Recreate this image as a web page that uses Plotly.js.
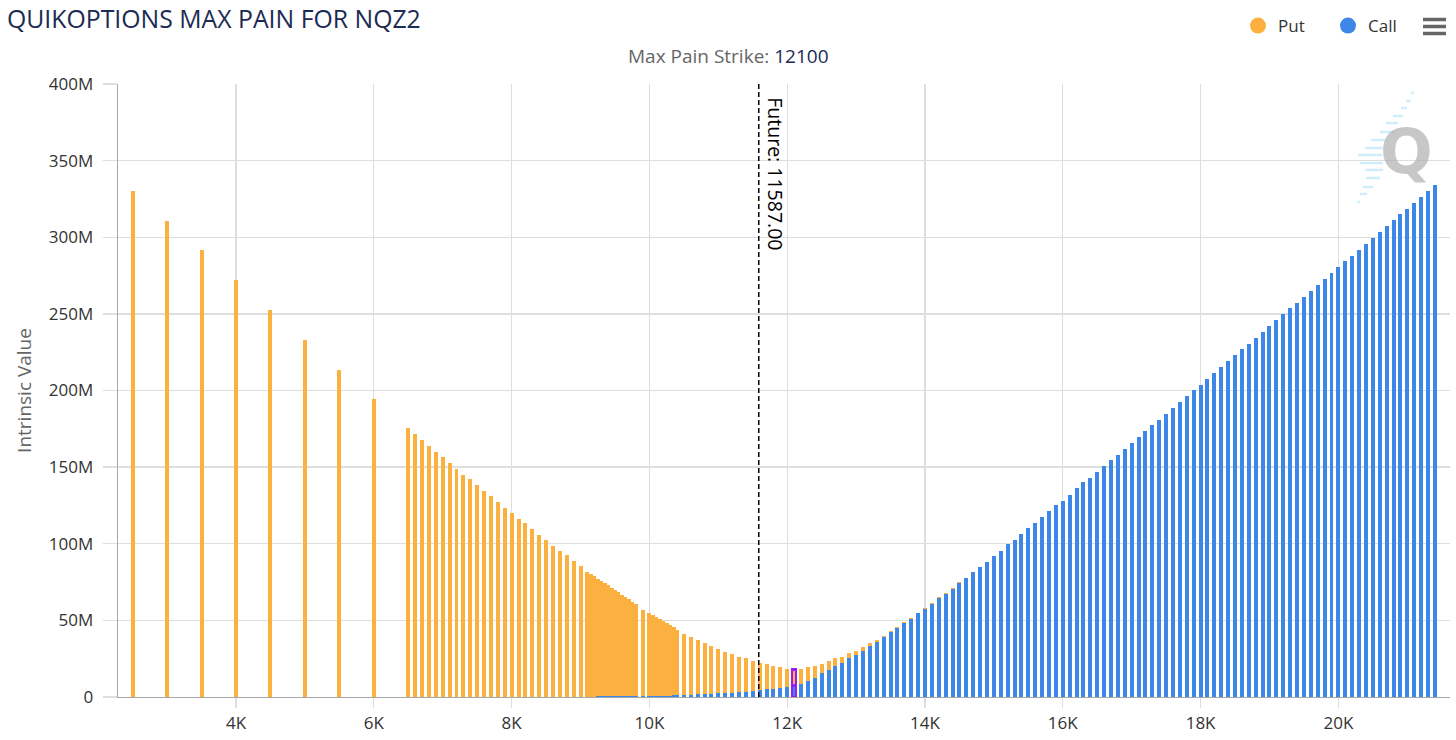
<!DOCTYPE html>
<html>
<head>
<meta charset="utf-8">
<script src="https://cdn.plot.ly/plotly-3.0.1.min.js"></script>
<style>
html,body{margin:0;padding:0;background:#fff;}
#chart{width:1456px;height:740px;}
</style>
</head>
<body>
<div id="chart"></div>
<script>
// ---- DATA (values in millions) ----
const strikes = [
  2500,3000,3500,4000,4500,5000,5500,6000,
  6500,6600,6700,6800,6900,7000,7100,7200,7300,7400,7500,7600,7700,7800,7900,8000,8100,8200,8300,8400,8500,8600,8700,8800,8900,9000,
  9100,9150,9200,9250,9300,9350,9400,9450,9500,9550,9600,9650,9700,9750,9800,
  9900,
  10000,10050,10100,10150,10200,10250,10300,10350,10400,
  10500,10600,10700,10800,10900,11000,11100,11200,11300,11400,
  11500,11600,11700,11800,11900,12000,12100,12200,12300,12400,
  12500,12600,12700,12800,12900,13000,13100,13200,13300,13400,
  13500,13600,13700,13800,13900,14000,14100,14200,14300,14400,
  14500,14600,14700,14800,14900,15000,
  15100,15200,15300,15400,15500,15600,15700,15800,15900,16000,
  16100,16200,16300,16400,16500,16600,16700,16800,16900,17000,
  17100,17200,17300,17400,17500,17600,17700,17800,17900,18000,
  18100,18200,18300,18400,18500,18600,18700,18800,18900,19000,
  19100,19200,19300,19400,19500,19600,19700,19800,19900,20000,
  20100,20200,20300,20400,20500,20600,20700,20800,20900,21000,
  21100,21200,21300,21400
];
const putValues = [
  330.3,310.7,291.8,272.2,252.6,233.0,213.4,194.5,
  175.6,171.9,167.8,163.8,159.9,156.9,153.0,149.0,145.1,142.1,138.2,134.3,131.2,127.3,123.4,120.3,116.4,113.4,109.5,105.5,102.5,98.6,95.5,92.5,88.6,85.7,
  81.8,80.3,78.8,76.5,75.0,73.5,72.0,70.5,69.0,67.5,66.0,64.5,63.0,61.4,59.9,
  56.2,
  53.7,52.4,51.2,49.9,48.7,47.3,46.1,44.6,42.8,
  39.8,37.5,35.5,33.5,31.2,28.8,26.8,25.4,23.2,21.8,
  19.7,18.0,16.5,14.7,13.3,11.7,10.4,10.2,8.9,8.0,
  6.0,5.9,5.1,3.9,3.0,2.7,2.4,1.9,1.5,1.0,
  0.9,0.8,0.7,0.6,0.5,0.5,0.4,0.4,0.4,0.4,
  0.3,0.2,0.1,0,0,0,
  0,0,0,0,0,0,0,0,0,0,
  0,0,0,0,0,0,0,0,0,0,
  0,0,0,0,0,0,0,0,0,0,
  0,0,0,0,0,0,0,0,0,0,
  0,0,0,0,0,0,0,0,0,0,
  0,0,0,0,0,0,0,0,0,0,
  0,0,0,0
];
const callValues = [
  0,0,0,0,0,0,0,0,
  0,0,0,0,0,0,0,0,0,0,0,0,0,0,0,0,0,0,0,0,0,0,0,0,0,0,
  0,0,0,0.8,0.8,0.8,0.8,0.8,0.8,0.8,0.8,0.8,0.8,0.8,0.8,
  0.8,
  0.8,0.8,0.8,0.8,0.8,0.9,0.9,1.0,1.2,
  1.3,1.5,1.7,1.9,2.1,2.3,2.5,2.8,3.1,3.4,
  3.8,4.3,4.9,5.5,6.1,6.7,7.5,8.3,10.7,12.4,
  15.5,17.6,20.2,22.4,25.5,27.3,30.0,33.1,35.7,39.0,
  42.4,45.1,48.1,51.2,54.5,57.6,60.7,64.7,67.5,70.8,
  74.6,77.5,81.4,84.6,88.3,92.2,
  95.3,99.7,102.3,106.4,110.1,113.4,117.3,121.4,125.1,128.1,
  132.0,136.2,140.1,143.1,146.9,151.0,154.9,158.0,161.9,165.8,
  169.7,173.6,177.7,180.8,184.7,188.6,192.5,196.5,200.4,203.6,
  207.6,211.7,215.4,219.3,223.4,227.1,230.4,234.1,238.2,242.4,
  246.1,250.0,254.1,257.2,261.1,265.0,268.9,272.8,276.7,280.9,
  284.8,287.8,291.8,295.7,299.6,303.5,307.4,311.3,315.5,318.3,
  322.2,326.2,330.3,334.2
];
const xTickVals = [4000,6000,8000,10000,12000,14000,16000,18000,20000];
const xTickText = ['4K','6K','8K','10K','12K','14K','16K','18K','20K'];
const maxPainStrike = 12100;
const futurePrice = 11587.00;
const seriesNames = ['Put','Call'];

// ---- STYLE ----
const putColor = '#fbb040';
const callColor = '#3d87e8';
const highlight = '#9b1cf2';
const FONT = 'Open Sans, Noto Sans, sans-serif';

// plot-area pixel frame (for decorations)
const L = 118, R = 1450, T = 84, B = 697;
const px2x = p => (p - L) / (R - L);
const py2y = p => (B - p) / (B - T);

const lineColors = strikes.map(s => s === maxPainStrike ? highlight : 'rgba(0,0,0,0)');
const lineWidths = strikes.map(s => s === maxPainStrike ? 2.5 : 0);

const callTrace = {
  type: 'bar', name: seriesNames[1], x: strikes, y: callValues.map(v => v * 1e6),
  width: 58, marker: {color: callColor, line: {color: lineColors, width: lineWidths}},
  showlegend: false, hoverinfo: 'skip'
};
const putTrace = {
  type: 'bar', name: seriesNames[0], x: strikes, y: putValues.map(v => v * 1e6),
  width: 58, marker: {color: putColor, line: {color: lineColors, width: lineWidths}},
  showlegend: false, hoverinfo: 'skip'
};
const legPut = {type: 'scatter', mode: 'markers', x: [null], y: [null], name: seriesNames[0],
  marker: {color: putColor, size: 16, symbol: 'circle'}, hoverinfo: 'skip'};
const legCall = {type: 'scatter', mode: 'markers', x: [null], y: [null], name: seriesNames[1],
  marker: {color: callColor, size: 16, symbol: 'circle'}, hoverinfo: 'skip'};

// watermark streaks (decoration) [y, x0, x1] in px
const streaks = [
  [93,1411,1414],[101,1406,1411],[108,1401,1407],[116,1393,1403],[123,1386,1398],
  [132,1380,1395],[140,1371,1385],[148,1365,1383],[155,1358,1382],[163,1360,1383],
  [170,1365,1383],[178,1366,1380],[187,1363,1373],[194,1360,1367],[202,1357,1360]
];

const shapes = [
  {type: 'line', xref: 'x', yref: 'paper', x0: futurePrice, x1: futurePrice, y0: 0, y1: 1,
   line: {color: '#000', width: 1.5, dash: '5px,3px'}}
];
streaks.forEach(s => shapes.push({type: 'line', xref: 'paper', yref: 'paper',
  x0: px2x(s[1]), x1: px2x(s[2]), y0: py2y(s[0]), y1: py2y(s[0]),
  line: {color: '#cdeffb', width: 2.5}, layer: 'below'}));
[19.5, 26.5, 33.5].forEach(yy => shapes.push({type: 'line', xref: 'paper', yref: 'paper',
  x0: px2x(1423), x1: px2x(1446), y0: py2y(yy), y1: py2y(yy),
  line: {color: '#666', width: 3.5}}));

const annotations = [
  {xref: 'paper', yref: 'paper', x: px2x(728), y: py2y(56), xanchor: 'center', yanchor: 'middle',
   text: 'Max Pain Strike: <span style="color:#1c2b53">' + maxPainStrike + '</span>',
   showarrow: false, font: {family: FONT, size: 19, color: '#666'}},
  {xref: 'x', yref: 'paper', x: futurePrice, y: py2y(95), xanchor: 'left', yanchor: 'top',
   xshift: 1, textangle: 90, text: 'Future: ' + futurePrice.toFixed(2),
   showarrow: false, font: {family: FONT, size: 19.5, color: '#000'}},
  {xref: 'paper', yref: 'paper', x: px2x(1406), y: py2y(152), xanchor: 'center', yanchor: 'middle',
   text: '<b>Q</b>', showarrow: false, font: {family: 'DejaVu Sans, sans-serif', size: 62, color: 'rgba(175,175,175,0.7)'}}
];

const layout = {
  width: 1456, height: 740,
  margin: {l: L, r: 1456 - R, t: T, b: 740 - B, pad: 0},
  paper_bgcolor: '#fff', plot_bgcolor: '#fff',
  font: {family: FONT, size: 17, color: '#333'},
  barmode: 'stack',
  title: {text: 'QUIKOPTIONS MAX PAIN FOR NQZ2', xref: 'container', yref: 'container',
    x: 7 / 1456, xanchor: 'left', y: 1 - 19 / 740, yanchor: 'middle',
    font: {family: FONT, size: 24.8, color: '#1c2b53'}},
  showlegend: true,
  legend: {orientation: 'h', traceorder: 'normal', x: px2x(1238), xanchor: 'left', y: py2y(26), yanchor: 'middle',
    font: {family: FONT, size: 17, color: '#333'}, bgcolor: 'rgba(0,0,0,0)', entrywidth: 45},
  xaxis: {range: [2287, 21620], tickvals: xTickVals, ticktext: xTickText,
    showgrid: true, gridcolor: '#dedede', gridwidth: 1.3, zeroline: false,
    showline: true, linecolor: '#a8a8a8', linewidth: 1.3,
    ticks: 'outside', ticklen: 10, tickcolor: '#dedede', tickwidth: 1.3,
    tickfont: {family: FONT, size: 17, color: '#333'}, fixedrange: true},
  yaxis: {range: [0, 400e6], dtick: 50e6, tickformat: '~s',
    showgrid: true, gridcolor: '#dedede', gridwidth: 1.3, zeroline: false,
    showline: true, linecolor: '#a8a8a8', linewidth: 1.3,
    ticks: 'outside', ticklen: 14, tickcolor: '#dedede', tickwidth: 1.3,
    tickfont: {family: FONT, size: 17, color: '#333'}, ticklabelstandoff: 6,
    title: {text: 'Intrinsic Value', standoff: 12, font: {family: FONT, size: 19, color: '#666'}},
    fixedrange: true},
  shapes: shapes,
  annotations: annotations
};

Plotly.newPlot('chart', [callTrace, putTrace, legPut, legCall], layout, {displayModeBar: false, staticPlot: true});
</script>
</body>
</html>
